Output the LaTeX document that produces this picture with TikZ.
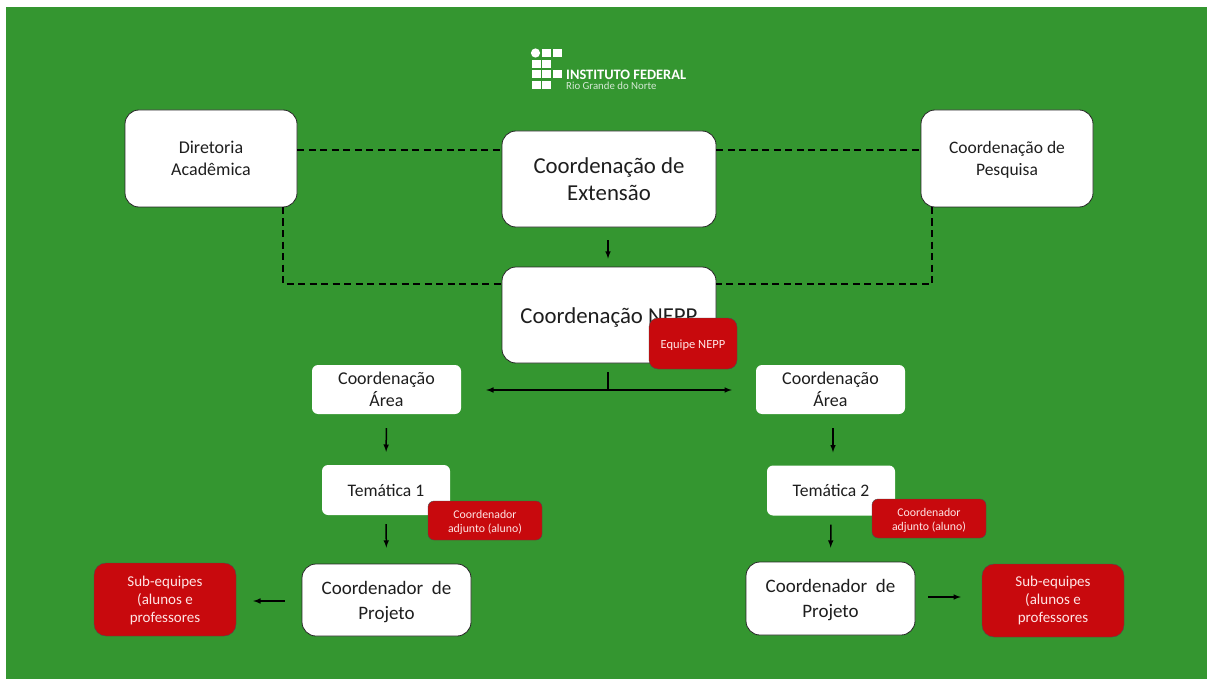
\documentclass[tikz,border=0pt]{standalone}
\usepackage{fontspec}
\setmainfont{Carlito}
\definecolor{fundo}{RGB}{52,150,48}
\definecolor{vermelho}{RGB}{200,9,13}
\definecolor{texto}{RGB}{30,30,30}
\tikzset{
  caixa/.style={draw=black!85,fill=white,rounded corners=14pt,align=center,text=texto,inner sep=0pt,line width=0.8pt},
  area/.style={fill=white,rounded corners=6pt,align=center,text=texto,inner sep=0pt,font=\fontsize{18}{21.5}\selectfont,minimum width=149pt,minimum height=49pt},
  equipe/.style={draw=black!70,fill=vermelho,rounded corners=9pt,align=center,text=white!90!red,inner sep=0pt},
  seta/.style={line width=1.5pt,-latex},
  tracejada/.style={line width=1.4pt,dash pattern=on 7pt off 4.5pt}
}
\begin{document}
\begin{tikzpicture}[x=1pt,y=-1pt]
\useasboundingbox (0,0) rectangle (1207,679);
\fill[fundo] (6,7) rectangle (1207,679);
% logo
\fill[white] (535.5,53) circle (4.6);
\foreach \x/\y in {546/53,557/53,536/64,546/64,536/74,546/74,557/74,536/85,546/85}
  \fill[white] (\x-4.5,\y-4.2) rectangle (\x+4.5,\y+4.2);
\node[anchor=west,inner sep=0pt,text=white] (ifrn) at (566,74.5) {\fontsize{14.4}{16}\selectfont\bfseries INSTITUTO FEDERAL};
\node[anchor=west,inner sep=0pt,text=white!80!fundo] (rn) at (566,86) {\fontsize{10.8}{12}\selectfont Rio Grande do Norte};
% coordenacoes
\node[caixa,minimum width=172pt,minimum height=97pt,font=\fontsize{18}{22}\selectfont] (dir) at (211,158.5) {Diretoria\\Acadêmica};
\node[caixa,minimum width=172pt,minimum height=97pt,font=\fontsize{17.5}{22}\selectfont] (pesq) at (1007,158.5) {\rule{0pt}{15pt}Coordenação de\\Pesquisa};
\node[caixa,minimum width=214pt,minimum height=96pt,font=\fontsize{22.8}{27.5}\selectfont] (ext) at (609,179) {Coordenação de\\Extensão};
\node[caixa,minimum width=214pt,minimum height=96pt,font=\fontsize{22.8}{28}\selectfont] (nepp) at (609,315) {\rule{0pt}{21pt}Coordenação NEPP};
\node[equipe,minimum width=88pt,minimum height=51pt,font=\fontsize{12.5}{15}\selectfont] (eqnepp) at (693,343.5) {\rule{0pt}{13pt}Equipe NEPP};
% areas
\node[area] (area1) at (386.5,389.5) {Coordenação\\Área};
\node[area] (area2) at (830.5,389.5) {Coordenação\\Área};
\node[area,minimum width=128pt,minimum height=50pt,font=\fontsize{17.6}{22}\selectfont] (tem1) at (386,490) {Temática 1};
\node[area,minimum width=128pt,minimum height=50pt,font=\fontsize{17.6}{22}\selectfont] (tem2) at (831,490.5) {Temática 2};
\node[equipe,rounded corners=6pt,minimum width=114pt,minimum height=39pt,font=\fontsize{11.8}{14.5}\selectfont] (adj1) at (485,520.5) {\rule{0pt}{12pt}Coordenador\\adjunto (aluno)};
\node[equipe,rounded corners=6pt,minimum width=114pt,minimum height=39pt,font=\fontsize{11.8}{14.5}\selectfont] (adj2) at (929,518.5) {\rule{0pt}{12pt}Coordenador\\adjunto (aluno)};
\node[caixa,minimum width=169pt,minimum height=72pt,font=\fontsize{19}{25}\selectfont] (proj1) at (386.5,600) {\rule{0pt}{18pt}Coordenador\ \ de\\Projeto};
\node[caixa,minimum width=169pt,minimum height=73pt,font=\fontsize{19}{25}\selectfont] (proj2) at (830.5,598.5) {\rule{0pt}{17pt}Coordenador\ \ de\\Projeto};
\node[equipe,rounded corners=12pt,minimum width=142pt,minimum height=73pt,font=\fontsize{15}{18}\selectfont] (sub1) at (165,599.5) {\rule{0pt}{13pt}Sub-equipes\\(alunos e\\professores};
\node[equipe,rounded corners=12pt,minimum width=142pt,minimum height=73pt,font=\fontsize{15}{18}\selectfont] (sub2) at (1053,600.5) {Sub-equipes\\(alunos e\\professores};
% ligacoes tracejadas
\coordinate (topo) at (0,150);
\coordinate (base) at (0,284);
\coordinate (descE) at (283,207);
\coordinate (descD) at (932,207);
\draw[tracejada] (dir.east |- topo) -- (ext.west |- topo);
\draw[tracejada] (ext.east |- topo) -- (pesq.west |- topo);
\draw[tracejada] (descE) -- (descE |- base) -- (nepp.west |- base);
\draw[tracejada] (descD) -- (descD |- base) -- (nepp.east |- base);
% setas
\coordinate (ramo) at ([xshift=-1pt,yshift=-0.5pt]nepp.south |- area1.east);
\draw[seta,shorten <=13pt,shorten >=8pt] ([xshift=-1pt]ext.south) -- ([xshift=-1pt]nepp.north);
\draw[line width=1.5pt,shorten <=9pt] ([xshift=-1pt]nepp.south) -- (ramo);
\draw[seta,latex-latex,shorten <=25pt,shorten >=24pt] ([yshift=-0.5pt]area1.east) -- ([yshift=-0.5pt]area2.west);
\draw[seta,shorten <=14pt,shorten >=13pt] (area1.south) -- (tem1.north);
\draw[seta,shorten <=14pt,shorten >=13pt] ([xshift=2.5pt]area2.south) -- ([xshift=2pt]tem2.north);
\draw[seta,shorten <=9pt,shorten >=16pt] (tem1.south) -- (proj1.north);
\draw[seta,shorten <=9pt,shorten >=14pt] (tem2.south) -- (proj2.north);
\draw[seta,shorten <=17pt,shorten >=17pt] ([yshift=-1pt]proj1.west) -- ([yshift=-1.5pt]sub1.east);
\draw[seta,shorten <=13pt,shorten >=21pt] ([yshift=1.5pt]proj2.east) -- ([yshift=3.5pt]sub2.west);
\end{tikzpicture}
\end{document}
